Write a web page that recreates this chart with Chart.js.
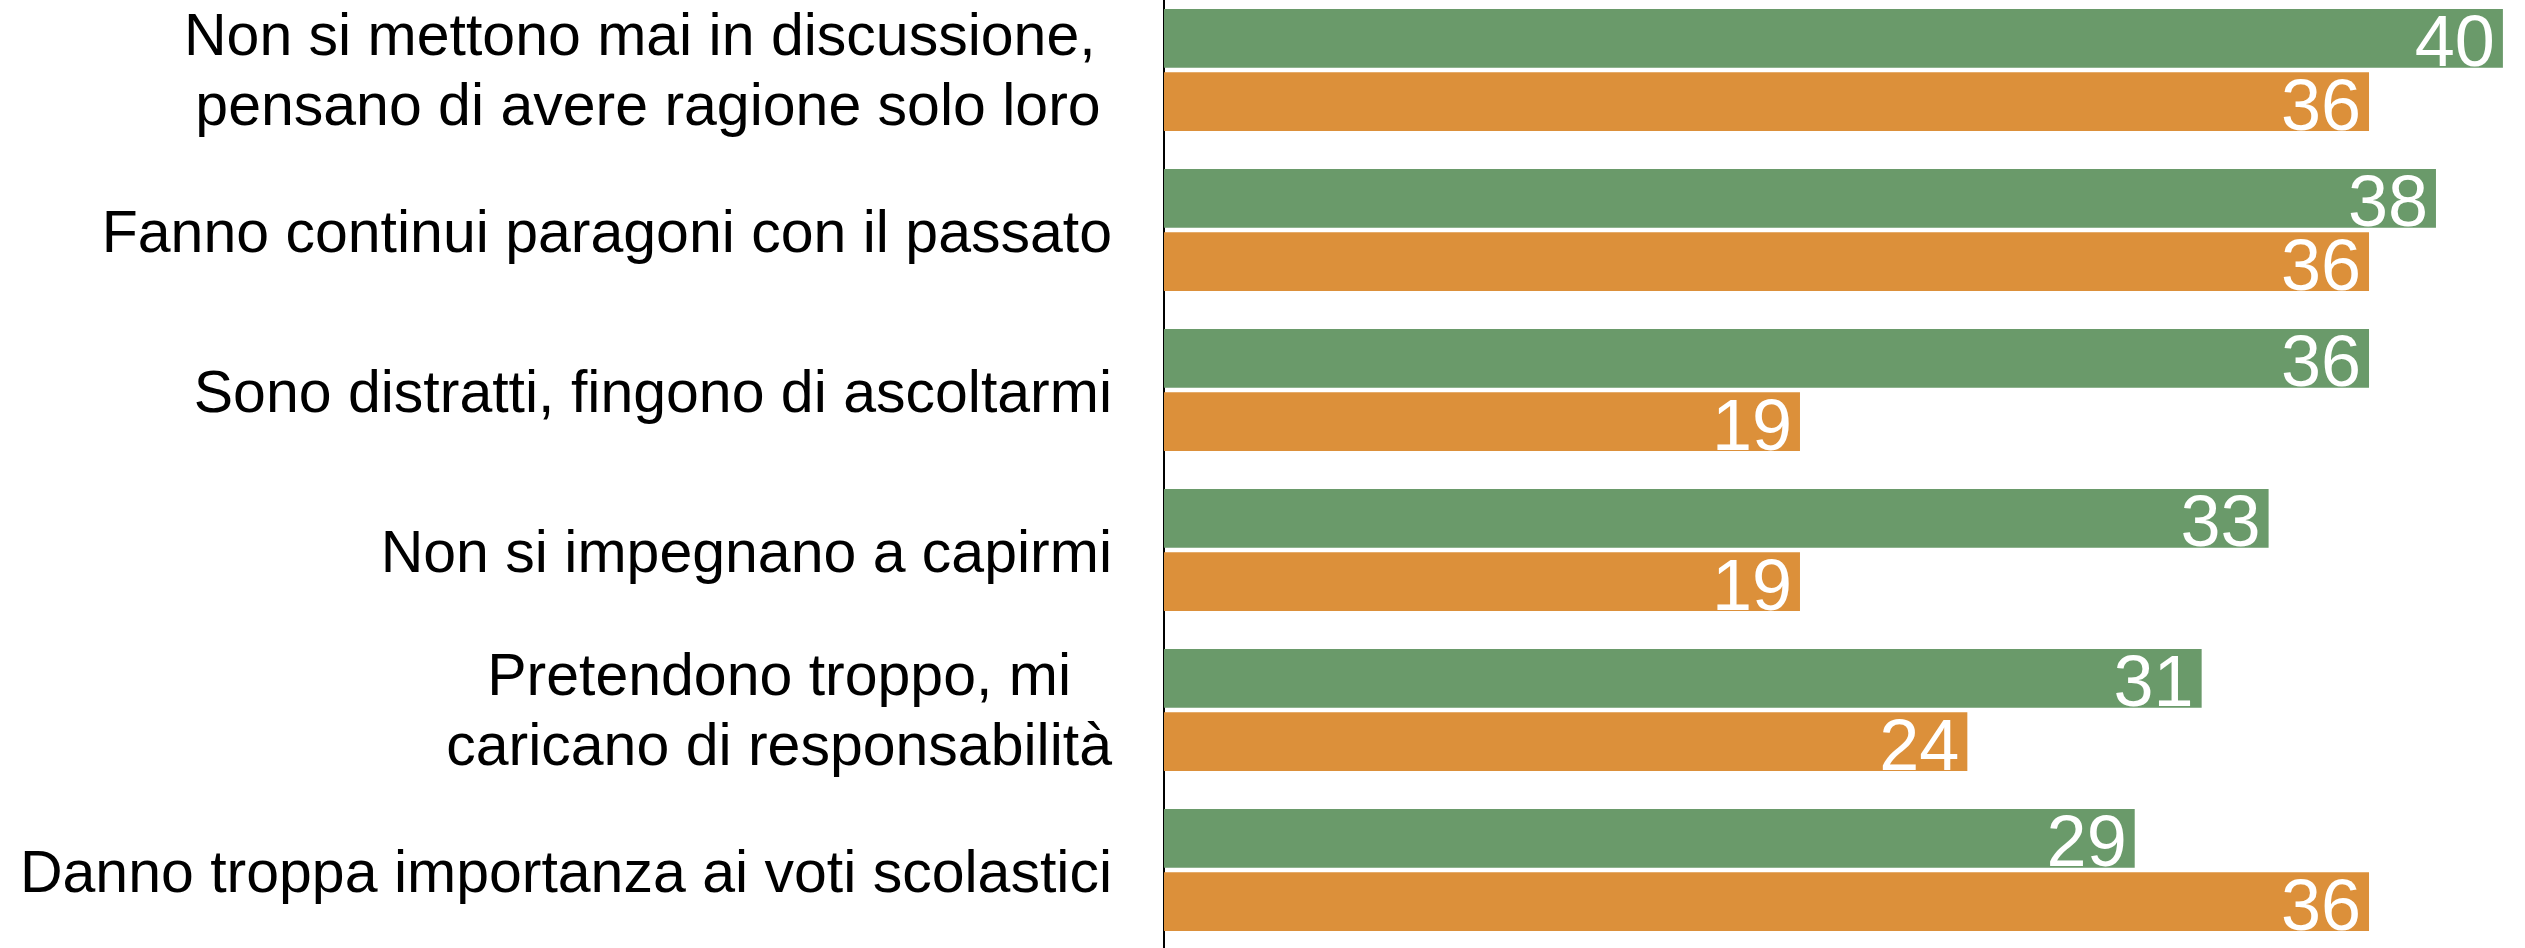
<!DOCTYPE html>
<html>
<head>
<meta charset="utf-8">
<script src="https://cdn.jsdelivr.net/npm/chart.js@4"></script>
<style>
  html, body { margin: 0; padding: 0; background: #fff; overflow: hidden; }
  #chart { position: absolute; left: 0; top: -10px; }
</style>
</head>
<body>
<canvas id="chart" width="2525" height="960"></canvas>
<script>
// categories (multi-line labels)
var categories = [
    ['Non si mettono mai in discussione, ', 'pensano di avere ragione solo loro'],
    ['Fanno continui paragoni con il passato'],
    ['Sono distratti, fingono di ascoltarmi'],
    ['Non si impegnano a capirmi'],
    ['Pretendono troppo, mi', 'caricano di responsabilità'],
    ['Danno troppa importanza ai voti scolastici']
];

// series values
var greenValues = [40, 38, 36, 33, 31, 29];
var orangeValues = [36, 36, 19, 19, 24, 36];

var greenColor = '#6a9a6a';
var orangeColor = '#dc903a';
var labelFont = '59px "Liberation Sans", Arial, sans-serif';
var valueFont = '72px "Liberation Sans", Arial, sans-serif';

// white numbers at the end of each bar
var valueLabels = {
    id: 'valueLabels',
    afterDatasetsDraw: function (chart) {
        var ctx = chart.ctx;
        ctx.save();
        ctx.font = valueFont;
        ctx.fillStyle = '#fff';
        ctx.textAlign = 'right';
        ctx.textBaseline = 'alphabetic';
        chart.data.datasets.forEach(function (ds, i) {
            chart.getDatasetMeta(i).data.forEach(function (bar, j) {
                ctx.fillText(String(ds.data[j]), bar.x - 8, bar.y + 28);
            });
        });
        ctx.restore();
    }
};

// category labels: block right-aligned, lines centered inside it
var categoryLabels = {
    id: 'categoryLabels',
    afterDraw: function (chart) {
        var ctx = chart.ctx;
        var yScale = chart.scales.y;
        ctx.save();
        ctx.font = labelFont;
        ctx.fillStyle = '#000';
        ctx.textAlign = 'center';
        ctx.textBaseline = 'alphabetic';
        var right = 1112;
        categories.forEach(function (lines, i) {
            var cy = yScale.getPixelForValue(i);
            var maxW = 0;
            lines.forEach(function (l) { maxW = Math.max(maxW, ctx.measureText(l).width); });
            var cx = right - maxW / 2;
            if (lines.length === 1) {
                ctx.fillText(lines[0], cx, cy + 22);
            } else {
                ctx.fillText(lines[0], cx, cy + 20 - 35);
                ctx.fillText(lines[1], cx, cy + 20 + 35);
            }
        });
        ctx.restore();
    }
};

var ctx1 = document.getElementById('chart').getContext('2d');

var chart = new Chart(ctx1, {
    type: 'bar',
    data: {
        labels: categories,
        datasets: [{
            data: greenValues,
            backgroundColor: greenColor,
            borderWidth: 0,
            categoryPercentage: 0.79,
            barPercentage: 0.93
        }, {
            data: orangeValues,
            backgroundColor: orangeColor,
            borderWidth: 0,
            categoryPercentage: 0.79,
            barPercentage: 0.93
        }]
    },
    options: {
        indexAxis: 'y',
        responsive: false,
        animation: false,
        devicePixelRatio: 1,
        layout: { padding: 0 },
        plugins: {
            legend: { display: false },
            tooltip: { enabled: false }
        },
        scales: {
            x: {
                display: false,
                min: 0,
                max: 40.66
            },
            y: {
                grid: { display: false },
                border: { display: true, color: '#000', width: 2 },
                ticks: { display: false },
                afterFit: function (scale) { scale.width = 1164; }
            }
        }
    },
    plugins: [valueLabels, categoryLabels]
});
</script>
</body>
</html>
